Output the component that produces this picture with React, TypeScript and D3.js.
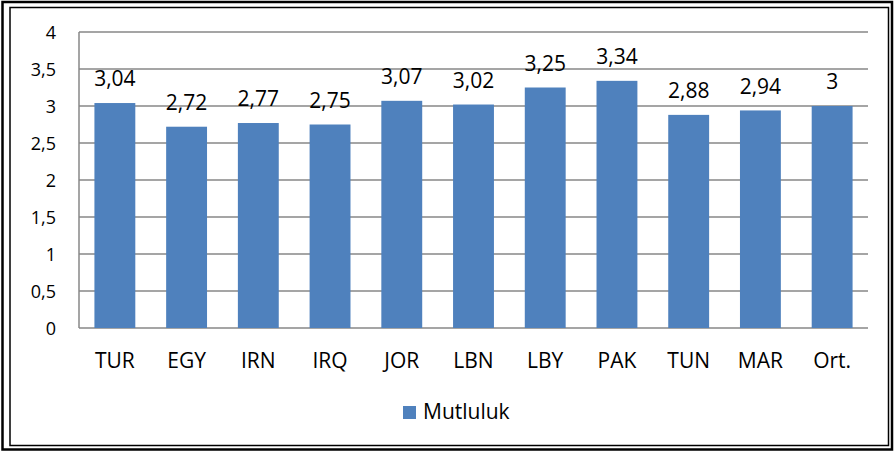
import React from "react";
import * as d3 from "d3";

const categories = ["TUR", "EGY", "IRN", "IRQ", "JOR", "LBN", "LBY", "PAK", "TUN", "MAR", "Ort."];
const values = [3.04, 2.72, 2.77, 2.75, 3.07, 3.02, 3.25, 3.34, 2.88, 2.94, 3];
const valueLabels = ["3,04", "2,72", "2,77", "2,75", "3,07", "3,02", "3,25", "3,34", "2,88", "2,94", "3"];
const yTicks = [0, 0.5, 1, 1.5, 2, 2.5, 3, 3.5, 4];
const yTickLabels = ["0", "0,5", "1", "1,5", "2", "2,5", "3", "3,5", "4"];
const seriesName = "Mutluluk";

const W = 894;
const H = 453;
const font = "'Open Sans', 'Noto Sans', sans-serif";

export default function App() {
  const x = d3.scaleBand<string>().domain(categories).range([79, 868]).paddingInner(0.43).paddingOuter(0.215);
  const y = d3.scaleLinear().domain([0, 4]).range([328, 32]);
  const color = "#4F81BD";
  return (
    <svg width={W} height={H} style={{ position: "absolute", left: 0, top: 0 }}>
      <rect x={0} y={0} width={W} height={H} fill="#fff" />
      <rect x={2.5} y={2} width={889.5} height={447.5} fill="none" stroke="#000" strokeWidth={2.5} />
      <rect x={10} y={7.5} width={878.5} height={438} fill="none" stroke="#000" strokeWidth={1.5} />
      {yTicks.map((t, i) => (
        <g key={t}>
          <line x1={79} x2={868} y1={y(t)} y2={y(t)} stroke="#878787" strokeWidth={1.5} />
          <text x={56} y={y(t) + 0.5} dy="0.35em" textAnchor="end" fontFamily={font} fontSize={18} fill="#000">
            {yTickLabels[i]}
          </text>
        </g>
      ))}
      <line x1={79} x2={79} y1={32} y2={328} stroke="#878787" strokeWidth={1.5} />
      {categories.map((c, i) => (
        <g key={c}>
          <rect x={x(c)} y={y(values[i])} width={x.bandwidth()} height={y(0) - y(values[i])} fill={color} />
          <text x={x(c)! + x.bandwidth() / 2} y={y(values[i]) - 24} dy="0.35em" textAnchor="middle" fontFamily={font} fontSize={21} fill="#000">
            {valueLabels[i]}
          </text>
          <text x={x(c)! + x.bandwidth() / 2} y={360.5} dy="0.35em" textAnchor="middle" fontFamily={font} fontSize={21} fill="#000">
            {c}
          </text>
        </g>
      ))}
      <rect x={403} y={406} width={13} height={13} fill={color} />
      <text x={423} y={412} dy="0.35em" fontFamily={font} fontSize={21} fill="#000">
        {seriesName}
      </text>
    </svg>
  );
}
